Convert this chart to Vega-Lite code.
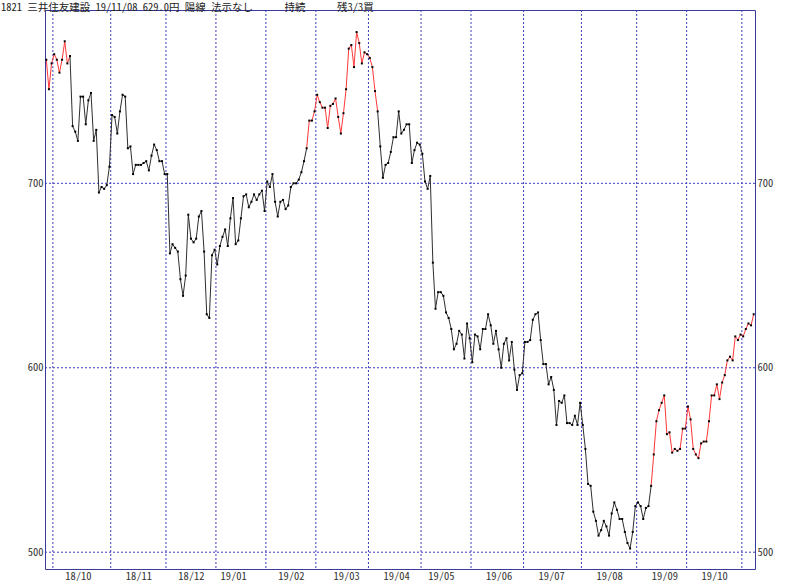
{
  "$schema": "https://vega.github.io/schema/vega-lite/v6.json",
  "width": 710,
  "height": 559,
  "autosize": {"type": "none"},
  "padding": {"left": 45, "top": 10, "right": 45, "bottom": 12},
  "background": "#ffffff",
  "title": {
    "text": "1821 三井住友建設 19/11/08 629.0円 陽線 法示なし\u00a0\u00a0\u00a0\u00a0\u00a0\u00a0持続\u00a0\u00a0\u00a0\u00a0\u00a0\u00a0残3/3買",
    "anchor": "start",
    "frame": "group",
    "dx": -44,
    "dy": 4,
    "offset": 0,
    "font": "Noto Sans Mono CJK JP, Noto Sans CJK JP",
    "fontSize": 10.5,
    "fontWeight": "normal",
    "color": "#222222"
  },
  "config": {
    "view": {"stroke": "#3a3a9c", "strokeWidth": 1},
    "axis": {"labelColor": "#333333", "labelFont": "Noto Sans Mono CJK JP, Liberation Sans", "labelFontSize": 10.5, "grid": false, "ticks": false, "domain": false}
  },
  "datasets": {
    "mb": [{"b": 2.5}, {"b": 24.5}, {"b": 45.5}, {"b": 64.5}, {"b": 83.5}, {"b": 102.5}, {"b": 122.5}, {"b": 142.5}, {"b": 161.5}, {"b": 181.5}, {"b": 203.5}, {"b": 224.5}, {"b": 243.5}, {"b": 264.5}],
    "hl": [{"y": 500}, {"y": 600}, {"y": 700}],
    "px": [
      {"i":0,"v":767,"r":1},{"i":1,"v":751,"r":1},{"i":2,"v":765,"r":1},{"i":3,"v":770,"r":1},{"i":4,"v":767,"r":1},{"i":5,"v":760,"r":1},{"i":6,"v":767,"r":1},{"i":7,"v":777,"r":1},{"i":8,"v":765,"r":1},{"i":9,"v":769,"r":0},
      {"i":10,"v":731,"r":0},{"i":11,"v":728,"r":0},{"i":12,"v":723,"r":0},{"i":13,"v":747,"r":0},{"i":14,"v":747,"r":0},{"i":15,"v":732,"r":0},{"i":16,"v":745,"r":0},{"i":17,"v":749,"r":0},{"i":18,"v":723,"r":0},{"i":19,"v":729,"r":0},
      {"i":20,"v":695,"r":0},{"i":21,"v":698,"r":0},{"i":22,"v":697,"r":0},{"i":23,"v":699,"r":0},{"i":24,"v":709,"r":0},{"i":25,"v":737,"r":0},{"i":26,"v":736,"r":0},{"i":27,"v":727,"r":0},{"i":28,"v":739,"r":0},{"i":29,"v":748,"r":0},
      {"i":30,"v":747,"r":0},{"i":31,"v":719,"r":0},{"i":32,"v":720,"r":0},{"i":33,"v":705,"r":0},{"i":34,"v":710,"r":0},{"i":35,"v":710,"r":0},{"i":36,"v":710,"r":0},{"i":37,"v":711,"r":0},{"i":38,"v":712,"r":0},{"i":39,"v":707,"r":0},
      {"i":40,"v":715,"r":0},{"i":41,"v":721,"r":0},{"i":42,"v":718,"r":0},{"i":43,"v":712,"r":0},{"i":44,"v":712,"r":0},{"i":45,"v":705,"r":0},{"i":46,"v":705,"r":0},{"i":47,"v":662,"r":0},{"i":48,"v":667,"r":0},{"i":49,"v":665,"r":0},
      {"i":50,"v":663,"r":0},{"i":51,"v":648,"r":0},{"i":52,"v":639,"r":0},{"i":53,"v":650,"r":0},{"i":54,"v":683,"r":0},{"i":55,"v":670,"r":0},{"i":56,"v":668,"r":0},{"i":57,"v":670,"r":0},{"i":58,"v":682,"r":0},{"i":59,"v":685,"r":0},
      {"i":60,"v":663,"r":0},{"i":61,"v":629,"r":0},{"i":62,"v":627,"r":0},{"i":63,"v":661,"r":0},{"i":64,"v":664,"r":0},{"i":65,"v":656,"r":0},{"i":66,"v":666,"r":0},{"i":67,"v":671,"r":0},{"i":68,"v":675,"r":0},{"i":69,"v":666,"r":0},
      {"i":70,"v":681,"r":0},{"i":71,"v":692,"r":0},{"i":72,"v":667,"r":0},{"i":73,"v":669,"r":0},{"i":74,"v":681,"r":0},{"i":75,"v":693,"r":0},{"i":76,"v":694,"r":0},{"i":77,"v":687,"r":0},{"i":78,"v":690,"r":0},{"i":79,"v":694,"r":0},
      {"i":80,"v":691,"r":0},{"i":81,"v":694,"r":0},{"i":82,"v":696,"r":0},{"i":83,"v":685,"r":0},{"i":84,"v":701,"r":0},{"i":85,"v":698,"r":0},{"i":86,"v":705,"r":0},{"i":87,"v":690,"r":0},{"i":88,"v":682,"r":0},{"i":89,"v":690,"r":0},
      {"i":90,"v":691,"r":0},{"i":91,"v":686,"r":0},{"i":92,"v":688,"r":0},{"i":93,"v":698,"r":0},{"i":94,"v":700,"r":0},{"i":95,"v":700,"r":0},{"i":96,"v":702,"r":0},{"i":97,"v":706,"r":0},{"i":98,"v":712,"r":0},{"i":99,"v":719,"r":1},
      {"i":100,"v":734,"r":1},{"i":101,"v":734,"r":1},{"i":102,"v":739,"r":1},{"i":103,"v":748,"r":1},{"i":104,"v":744,"r":1},{"i":105,"v":741,"r":1},{"i":106,"v":741,"r":1},{"i":107,"v":730,"r":1},{"i":108,"v":742,"r":1},{"i":109,"v":743,"r":1},
      {"i":110,"v":746,"r":1},{"i":111,"v":736,"r":1},{"i":112,"v":727,"r":1},{"i":113,"v":738,"r":1},{"i":114,"v":751,"r":1},{"i":115,"v":773,"r":1},{"i":116,"v":775,"r":1},{"i":117,"v":763,"r":1},{"i":118,"v":782,"r":1},{"i":119,"v":776,"r":1},
      {"i":120,"v":765,"r":1},{"i":121,"v":771,"r":1},{"i":122,"v":770,"r":1},{"i":123,"v":768,"r":1},{"i":124,"v":763,"r":1},{"i":125,"v":750,"r":1},{"i":126,"v":739,"r":0},{"i":127,"v":720,"r":0},{"i":128,"v":703,"r":0},{"i":129,"v":710,"r":0},
      {"i":130,"v":711,"r":0},{"i":131,"v":717,"r":0},{"i":132,"v":725,"r":0},{"i":133,"v":725,"r":0},{"i":134,"v":739,"r":0},{"i":135,"v":727,"r":0},{"i":136,"v":729,"r":0},{"i":137,"v":732,"r":0},{"i":138,"v":732,"r":0},{"i":139,"v":711,"r":0},
      {"i":140,"v":718,"r":0},{"i":141,"v":722,"r":0},{"i":142,"v":721,"r":0},{"i":143,"v":716,"r":0},{"i":144,"v":701,"r":0},{"i":145,"v":697,"r":0},{"i":146,"v":704,"r":0},{"i":147,"v":657,"r":0},{"i":148,"v":632,"r":0},{"i":149,"v":641,"r":0},
      {"i":150,"v":641,"r":0},{"i":151,"v":639,"r":0},{"i":152,"v":630,"r":0},{"i":153,"v":627,"r":0},{"i":154,"v":621,"r":0},{"i":155,"v":610,"r":0},{"i":156,"v":613,"r":0},{"i":157,"v":620,"r":0},{"i":158,"v":618,"r":0},{"i":159,"v":605,"r":0},
      {"i":160,"v":624,"r":0},{"i":161,"v":616,"r":0},{"i":162,"v":603,"r":0},{"i":163,"v":618,"r":0},{"i":164,"v":617,"r":0},{"i":165,"v":610,"r":0},{"i":166,"v":621,"r":0},{"i":167,"v":621,"r":0},{"i":168,"v":629,"r":0},{"i":169,"v":623,"r":0},
      {"i":170,"v":613,"r":0},{"i":171,"v":620,"r":0},{"i":172,"v":610,"r":0},{"i":173,"v":600,"r":0},{"i":174,"v":613,"r":0},{"i":175,"v":616,"r":0},{"i":176,"v":604,"r":0},{"i":177,"v":614,"r":0},{"i":178,"v":599,"r":0},{"i":179,"v":588,"r":0},
      {"i":180,"v":596,"r":0},{"i":181,"v":597,"r":0},{"i":182,"v":614,"r":0},{"i":183,"v":614,"r":0},{"i":184,"v":615,"r":0},{"i":185,"v":626,"r":0},{"i":186,"v":629,"r":0},{"i":187,"v":630,"r":0},{"i":188,"v":615,"r":0},{"i":189,"v":602,"r":0},
      {"i":190,"v":602,"r":0},{"i":191,"v":591,"r":0},{"i":192,"v":595,"r":0},{"i":193,"v":588,"r":0},{"i":194,"v":569,"r":0},{"i":195,"v":582,"r":0},{"i":196,"v":581,"r":0},{"i":197,"v":585,"r":0},{"i":198,"v":570,"r":0},{"i":199,"v":570,"r":0},
      {"i":200,"v":569,"r":0},{"i":201,"v":574,"r":0},{"i":202,"v":569,"r":0},{"i":203,"v":581,"r":0},{"i":204,"v":569,"r":0},{"i":205,"v":556,"r":0},{"i":206,"v":537,"r":0},{"i":207,"v":536,"r":0},{"i":208,"v":522,"r":0},{"i":209,"v":517,"r":0},
      {"i":210,"v":509,"r":0},{"i":211,"v":512,"r":0},{"i":212,"v":517,"r":0},{"i":213,"v":514,"r":0},{"i":214,"v":509,"r":0},{"i":215,"v":521,"r":0},{"i":216,"v":527,"r":0},{"i":217,"v":523,"r":0},{"i":218,"v":518,"r":0},{"i":219,"v":518,"r":0},
      {"i":220,"v":511,"r":0},{"i":221,"v":505,"r":0},{"i":222,"v":502,"r":0},{"i":223,"v":511,"r":0},{"i":224,"v":525,"r":0},{"i":225,"v":527,"r":0},{"i":226,"v":525,"r":0},{"i":227,"v":518,"r":0},{"i":228,"v":524,"r":0},{"i":229,"v":525,"r":0},
      {"i":230,"v":536,"r":1},{"i":231,"v":553,"r":1},{"i":232,"v":571,"r":1},{"i":233,"v":577,"r":1},{"i":234,"v":581,"r":1},{"i":235,"v":585,"r":1},{"i":236,"v":564,"r":1},{"i":237,"v":565,"r":1},{"i":238,"v":554,"r":1},{"i":239,"v":556,"r":1},
      {"i":240,"v":555,"r":1},{"i":241,"v":556,"r":1},{"i":242,"v":567,"r":1},{"i":243,"v":567,"r":1},{"i":244,"v":579,"r":1},{"i":245,"v":572,"r":1},{"i":246,"v":556,"r":1},{"i":247,"v":553,"r":1},{"i":248,"v":551,"r":1},{"i":249,"v":559,"r":1},
      {"i":250,"v":560,"r":1},{"i":251,"v":560,"r":1},{"i":252,"v":571,"r":1},{"i":253,"v":585,"r":1},{"i":254,"v":585,"r":1},{"i":255,"v":591,"r":1},{"i":256,"v":583,"r":1},{"i":257,"v":592,"r":1},{"i":258,"v":596,"r":1},{"i":259,"v":604,"r":1},
      {"i":260,"v":606,"r":1},{"i":261,"v":604,"r":1},{"i":262,"v":617,"r":1},{"i":263,"v":615,"r":1},{"i":264,"v":618,"r":1},{"i":265,"v":617,"r":1},{"i":266,"v":621,"r":1},{"i":267,"v":624,"r":1},{"i":268,"v":623,"r":1},{"i":269,"v":629,"r":1}
    ]
  },
  "resolve": {"axis": {"y": "independent"}},
  "layer": [
    {
      "data": {"name": "mb"},
      "mark": {"type": "rule", "color": "#3c3cc0", "strokeWidth": 1, "strokeDash": [2, 2]},
      "encoding": {
        "x": {"field": "b", "type": "quantitative", "scale": {"domain": [-0.5, 269.5], "nice": false, "zero": false},
              "axis": {"orient": "bottom", "values": [12, 35, 55, 71, 93, 114, 133, 150, 172, 192, 214, 235, 254],
                       "labelExpr": "datum.value == 12 ? '18/10' : datum.value == 35 ? '18/11' : datum.value == 55 ? '18/12' : datum.value == 71 ? '19/01' : datum.value == 93 ? '19/02' : datum.value == 114 ? '19/03' : datum.value == 133 ? '19/04' : datum.value == 150 ? '19/05' : datum.value == 172 ? '19/06' : datum.value == 192 ? '19/07' : datum.value == 214 ? '19/08' : datum.value == 235 ? '19/09' : '19/10'",
                       "labelPadding": 2, "labelBaseline": "top", "labelOverlap": false, "labelFlush": false, "title": null}}
      }
    },
    {
      "data": {"name": "hl"},
      "mark": {"type": "rule", "color": "#3c3cc0", "strokeWidth": 1, "strokeDash": [2, 2]},
      "encoding": {
        "y": {"field": "y", "type": "quantitative", "scale": {"domain": [490.9, 793.96], "nice": false, "zero": false},
              "axis": {"orient": "left", "values": [500, 600, 700], "labelPadding": 2, "title": null}}
      }
    },
    {
      "data": {"name": "px"},
      "transform": [
        {"window": [{"op": "lead", "field": "v", "as": "v2"}, {"op": "lead", "field": "i", "as": "i2"}], "sort": [{"field": "i"}]},
        {"filter": "datum.v2 != null"}
      ],
      "mark": {"type": "rule", "strokeWidth": 1},
      "encoding": {
        "x": {"field": "i", "type": "quantitative",
              "axis": {"orient": "bottom", "values": [12, 35, 55, 71, 93, 114, 133, 150, 172, 192, 214, 235, 254],
                       "labelExpr": "datum.value == 12 ? '18/10' : datum.value == 35 ? '18/11' : datum.value == 55 ? '18/12' : datum.value == 71 ? '19/01' : datum.value == 93 ? '19/02' : datum.value == 114 ? '19/03' : datum.value == 133 ? '19/04' : datum.value == 150 ? '19/05' : datum.value == 172 ? '19/06' : datum.value == 192 ? '19/07' : datum.value == 214 ? '19/08' : datum.value == 235 ? '19/09' : '19/10'",
                       "labelPadding": 2, "labelBaseline": "top", "labelOverlap": false, "labelFlush": false, "title": null}},
        "x2": {"field": "i2"},
        "y": {"field": "v", "type": "quantitative",
              "axis": {"orient": "right", "values": [500, 600, 700], "labelPadding": 2, "title": null}},
        "y2": {"field": "v2"},
        "color": {"field": "r", "type": "nominal", "scale": {"domain": [0, 1], "range": ["#2e2e2e", "#ff3838"]}, "legend": null}
      }
    },
    {
      "data": {"name": "px"},
      "mark": {"type": "square", "size": 4, "color": "#000000", "opacity": 1, "filled": true},
      "encoding": {
        "x": {"field": "i", "type": "quantitative",
              "axis": {"orient": "bottom", "values": [12, 35, 55, 71, 93, 114, 133, 150, 172, 192, 214, 235, 254],
                       "labelExpr": "datum.value == 12 ? '18/10' : datum.value == 35 ? '18/11' : datum.value == 55 ? '18/12' : datum.value == 71 ? '19/01' : datum.value == 93 ? '19/02' : datum.value == 114 ? '19/03' : datum.value == 133 ? '19/04' : datum.value == 150 ? '19/05' : datum.value == 172 ? '19/06' : datum.value == 192 ? '19/07' : datum.value == 214 ? '19/08' : datum.value == 235 ? '19/09' : '19/10'",
                       "labelPadding": 2, "labelBaseline": "top", "labelOverlap": false, "labelFlush": false, "title": null}},
        "y": {"field": "v", "type": "quantitative", "axis": null}
      }
    }
  ]
}
